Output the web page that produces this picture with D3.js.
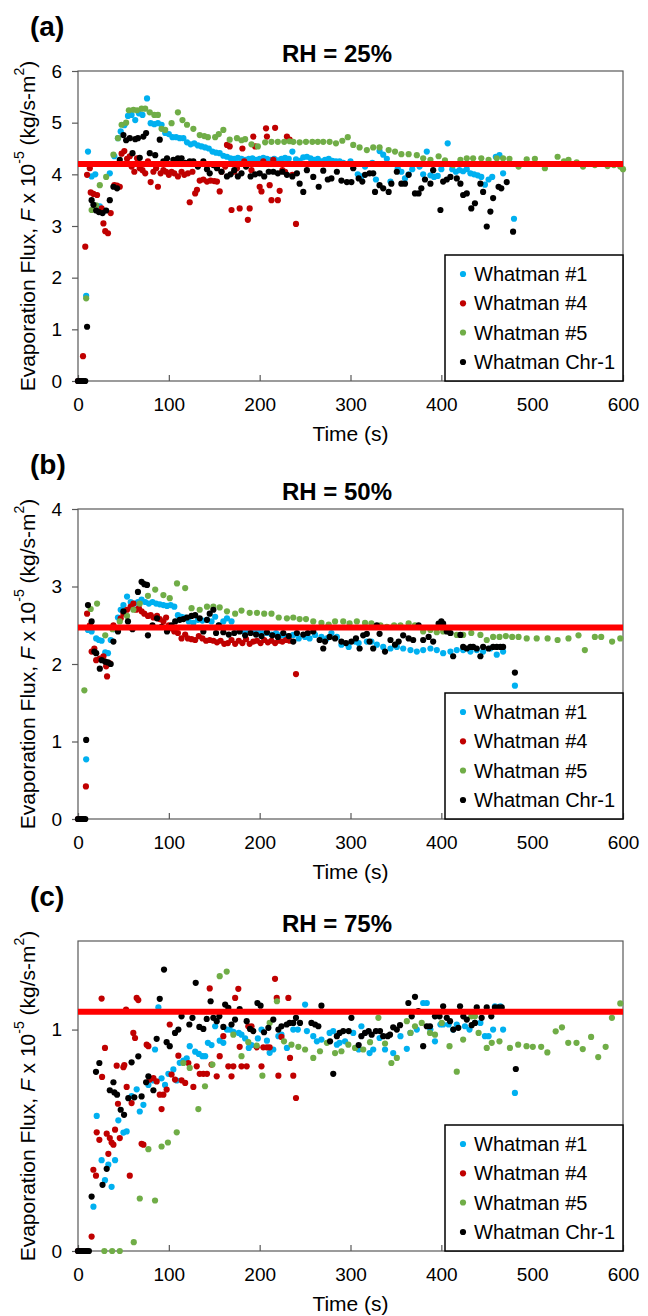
<!DOCTYPE html>
<html lang="en">
<head>
<meta charset="UTF-8" />
<title>Evaporation flux vs time</title>
<script src="https://d3js.org/d3.v7.min.js"></script>
<style>
  body { margin: 0; background: #fff; }
  svg { display: block; font-family: "Liberation Sans", Arial, sans-serif; }
</style>
</head>
<body>
<svg width="648" height="1316"></svg>
<script>
// ---- data: [time (s), flux x 1e-5] ----
const seriesNames = ["Whatman #1", "Whatman #4", "Whatman #5", "Whatman Chr-1"];
const seriesColors = ["#00b0f0", "#c00000", "#70ad47", "#000000"];
const panelLabels = ["(a)", "(b)", "(c)"];
const panelTitles = ["RH = 25%", "RH = 50%", "RH = 75%"];
const refLevels = [4.2, 2.47, 1.08];
const yMaxes = [6, 4, 1.4];
const yTicksA = [0, 1, 2, 3, 4, 5, 6];
const yTicksB = [0, 1, 2, 3, 4];
const yTicksC = [0, 1];
const xTicks = [0, 100, 200, 300, 400, 500, 600];

// (a) RH = 25%
const a_w1 = [[0,0],[3,0],[6,0],[9,1.65],[11,4.44],[15,3.96],[19,4.0],[24,3.38],[29,3.3],[35,4.02],[40,4.35],[44,4.7],[47,4.83],[51,4.95],[55,5.13],[59,5.15],[63,5.05],[67,5.18],[71,5.15],[76,5.47],[80,4.99],[84,4.97],[88,4.99],[92,4.96],[96,4.8],[100,4.78],[104,4.72],[108,4.72],[112,4.7],[116,4.7],[120,4.62],[124,4.58],[128,4.6],[132,4.56],[136,4.54],[140,4.52],[144,4.5],[148,4.44],[152,4.42],[156,4.41],[160,4.36],[164,4.34],[168,4.31],[172,4.3],[176,4.32],[180,4.3],[184,4.28],[188,4.3],[192,4.31],[196,4.28],[200,4.3],[204,4.32],[208,4.3],[212,4.28],[216,4.3],[220,4.27],[224,4.3],[228,4.32],[232,4.3],[236,4.44],[240,4.29],[244,4.26],[248,4.33],[252,4.34],[256,4.31],[260,4.28],[264,4.3],[268,4.25],[272,4.28],[276,4.3],[280,4.26],[284,4.25],[288,4.25],[292,4.22],[296,4.2],[300,4.25],[304,4.2],[308,4.0],[312,3.96],[316,4.15],[320,4.2],[324,4.22],[328,3.9],[332,4.45],[336,4.38],[340,4.3],[344,3.86],[348,4.2],[352,4.12],[356,4.05],[360,3.92],[364,4.0],[368,4.1],[372,4.2],[376,4.15],[380,4.0],[384,4.44],[388,3.98],[392,3.95],[396,3.97],[400,4.1],[404,4.2],[407,4.6],[412,4.1],[416,4.05],[420,4.08],[424,4.06],[428,4.1],[432,4.02],[436,4.0],[440,3.98],[444,3.95],[448,3.8],[452,3.9],[456,3.95],[460,4.34],[464,4.37],[468,4.02],[480,3.14]];
const a_w4 = [[0,0],[3,0],[5.5,0.48],[8,2.6],[10,3.99],[13,4.12],[14,3.65],[17,3.62],[21,3.6],[26,3.34],[28,3.05],[30,2.9],[33,2.86],[36,3.25],[40,3.79],[43,3.78],[46,3.76],[48,4.4],[51,4.45],[54,4.3],[57,4.35],[59,4.15],[62,4.05],[65,4.31],[68,4.12],[71,4.08],[74,4.02],[77,4.25],[80,3.85],[83,4.05],[86,4.12],[88,3.76],[91,4.02],[94,4.08],[97,4.05],[100,3.99],[103,4.05],[106,4.02],[110,3.96],[114,4.05],[117,3.99],[121,4.02],[123,3.46],[126,4.05],[129,3.63],[131,3.7],[134,3.88],[138,3.9],[142,3.86],[146,3.88],[150,3.87],[153,3.86],[156,3.67],[158,4.05],[162,4.15],[164,4.57],[167,4.54],[169,3.31],[172,4.05],[175,4.12],[178,3.34],[181,4.5],[183,4.25],[187,3.12],[189,3.34],[191,4.08],[193,4.73],[195,4.54],[200,3.76],[202,3.67],[204,4.25],[207,4.89],[208,4.73],[211,3.79],[213,3.5],[215,4.28],[217,4.9],[220,3.5],[222,3.68],[225,4.08],[228,4.05],[230,4.73],[233,4.67],[236,3.99],[240,3.04]];
const a_w5 = [[9,1.6],[15,3.31],[20,3.4],[24,3.79],[31,3.95],[35,4.2],[39,4.38],[44,4.7],[48,4.96],[53,5.0],[56,5.24],[61,5.25],[65,5.24],[70,5.27],[74,5.27],[79,5.2],[84,5.15],[88,5.15],[92,4.88],[96,4.86],[103,4.99],[110,5.2],[115,5.05],[120,4.96],[127,4.88],[134,4.76],[139,4.74],[143,4.72],[151,4.72],[155,4.78],[160,4.86],[167,4.67],[175,4.7],[180,4.66],[184,4.68],[191,4.58],[198,4.54],[206,4.62],[213,4.63],[220,4.63],[227,4.63],[233,4.64],[237,4.63],[244,4.62],[251,4.63],[258,4.63],[264,4.63],[270,4.63],[277,4.63],[284,4.6],[291,4.65],[297,4.72],[303,4.57],[310,4.52],[318,4.47],[325,4.52],[332,4.52],[342,4.47],[349,4.44],[356,4.39],[364,4.39],[373,4.37],[380,4.31],[388,4.28],[397,4.35],[404,4.27],[413,4.18],[421,4.28],[428,4.31],[435,4.31],[444,4.31],[452,4.28],[461,4.31],[468,4.31],[475,4.3],[485,4.15],[494,4.29],[503,4.3],[514,4.12],[521,4.2],[528,4.34],[535,4.25],[540,4.28],[549,4.23],[556,4.15],[563,4.2],[569,4.18],[576,4.2],[583,4.16],[590,4.18],[597,4.15],[600,4.1]];
const a_chr = [[0,0],[2,0],[4,0],[6,0],[8,0],[10,1.05],[15,3.5],[17,3.41],[20,3.3],[23,3.27],[27,3.25],[31,3.3],[35,3.5],[39,3.76],[43,3.73],[46,4.28],[50,4.76],[53,4.66],[57,4.7],[60,4.41],[63,4.68],[66,4.7],[68,4.32],[72,4.73],[75,4.8],[79,4.41],[85,4.37],[90,4.67],[94,4.25],[98,4.31],[102,4.2],[105,4.28],[110,4.31],[114,4.31],[118,4.22],[123,4.25],[127,4.25],[132,4.15],[138,4.25],[142,4.1],[145,4.02],[149,4.18],[153,4.12],[158,4.05],[164,3.96],[168,4.0],[172,4.08],[176,3.96],[180,4.02],[185,4.15],[190,3.96],[195,4.0],[200,4.02],[205,3.96],[210,4.05],[215,4.05],[220,4.02],[225,4.05],[230,3.99],[236,3.96],[241,4.02],[244,3.82],[248,3.66],[252,4.08],[259,3.95],[265,3.76],[270,4.07],[275,3.9],[279,3.92],[285,4.05],[290,3.88],[296,3.85],[301,3.85],[303,4.12],[309,3.92],[313,3.86],[316,3.99],[321,4.02],[325,4.02],[327,3.66],[332,3.79],[336,3.73],[342,3.66],[345,3.82],[351,4.05],[356,3.82],[360,3.82],[364,3.99],[371,3.63],[375,3.63],[378,3.73],[382,3.9],[388,3.82],[391,4.08],[399,3.31],[402,3.86],[406,3.9],[410,3.95],[417,3.92],[421,3.82],[424,3.6],[428,3.63],[433,3.34],[437,3.44],[443,3.82],[446,3.66],[450,2.99],[454,3.28],[457,3.54],[463,3.76],[466,3.73],[472,3.85],[479,2.89]];

// (b) RH = 50%
const b_w1 = [[0,0],[3,0],[6,0],[9,0.77],[11,2.44],[15,2.42],[20,2.33],[23,2.31],[26,2.3],[30,2.15],[33,2.14],[36,2.31],[40,2.45],[44,2.6],[47,2.7],[50,2.76],[54,2.87],[58,2.8],[62,2.78],[66,2.8],[70,2.83],[74,2.8],[78,2.78],[82,2.8],[86,2.78],[90,2.77],[94,2.76],[98,2.75],[102,2.76],[106,2.74],[110,2.63],[114,2.61],[118,2.6],[122,2.55],[127,2.53],[132,2.57],[137,2.56],[142,2.57],[147,2.55],[151,2.61],[155,2.5],[160,2.55],[164,2.59],[169,2.55],[174,2.45],[178,2.43],[183,2.42],[188,2.44],[193,2.42],[198,2.42],[203,2.4],[208,2.4],[213,2.38],[218,2.4],[223,2.37],[228,2.36],[233,2.36],[237,2.375],[243,2.33],[250,2.35],[255,2.33],[261,2.375],[268,2.35],[274,2.33],[279,2.4],[285,2.35],[290,2.25],[298,2.22],[305,2.29],[309,2.27],[318,2.29],[323,2.29],[329,2.25],[336,2.22],[344,2.2],[351,2.22],[358,2.2],[366,2.18],[373,2.16],[380,2.18],[388,2.2],[395,2.18],[402,2.14],[410,2.16],[417,2.18],[424,2.18],[432,2.16],[439,2.18],[446,2.16],[454,2.2],[461,2.12],[468,2.16],[481,1.72]];
const b_w4 = [[0,0],[3,0],[8.7,0.42],[10,2.65],[13,2.5],[15,2.16],[18,2.2],[20,2.05],[24,2.07],[28,2.1],[31,1.97],[32,1.84],[35,2.01],[39,2.5],[43,2.46],[47,2.59],[50,2.65],[54,2.7],[58,2.74],[61,2.78],[64,2.7],[67,2.72],[70,2.68],[73,2.65],[77,2.62],[80,2.63],[83,2.6],[87,2.62],[90,2.58],[94,2.55],[97,2.6],[100,2.5],[103,2.46],[106,2.42],[110,2.4],[114,2.33],[118,2.38],[121,2.33],[125,2.32],[129,2.31],[133,2.36],[137,2.33],[141,2.3],[145,2.31],[149,2.3],[153,2.28],[157,2.3],[161,2.26],[165,2.27],[169,2.31],[173,2.26],[177,2.3],[181,2.27],[185,2.32],[189,2.26],[193,2.29],[197,2.3],[201,2.27],[205,2.31],[209,2.28],[213,2.3],[217,2.27],[221,2.3],[225,2.29],[229,2.31],[233,2.3],[240,1.87]];
const b_w5 = [[7,1.66],[14,2.71],[21,2.78],[30,2.37],[38,2.45],[46,2.55],[54,2.62],[61,2.7],[68,2.78],[77,2.88],[85,2.96],[94,2.89],[101,2.85],[109,3.04],[118,2.98],[125,2.72],[134,2.7],[142,2.74],[149,2.74],[156,2.73],[164,2.68],[173,2.65],[180,2.69],[189,2.66],[197,2.66],[205,2.65],[213,2.65],[221,2.6],[230,2.59],[237,2.6],[244,2.58],[251,2.58],[259,2.55],[268,2.53],[276,2.51],[283,2.55],[292,2.55],[299,2.525],[307,2.55],[316,2.53],[323,2.525],[333,2.5],[340,2.48],[348,2.5],[355,2.5],[364,2.525],[371,2.5],[380,2.42],[388,2.44],[395,2.41],[402,2.42],[410,2.4],[417,2.375],[424,2.375],[433,2.4],[443,2.375],[450,2.31],[457,2.35],[464,2.35],[471,2.36],[478,2.35],[485,2.35],[494,2.33],[505,2.33],[517,2.33],[528,2.31],[540,2.33],[551,2.37],[558,2.18],[569,2.35],[576,2.35],[588,2.29],[597,2.33]];
const b_chr = [[0,0],[2,0],[4,0],[6,0],[8,0],[9,1.02],[11,2.76],[15,2.55],[18,2.16],[20,2.14],[24,1.94],[26,2.05],[30,2.03],[33,2.02],[36,2.0],[39,2.29],[44,2.42],[50,2.68],[55,2.55],[60,2.45],[66,2.93],[70,3.06],[73,3.03],[76,3.02],[77,2.37],[82,2.5],[87,2.59],[92,2.48],[98,2.42],[103,2.5],[107,2.55],[112,2.57],[116,2.58],[120,2.6],[125,2.62],[129,2.63],[134,2.59],[138,2.42],[142,2.57],[145,2.65],[149,2.7],[152,2.4],[155,2.5],[160,2.41],[166,2.38],[172,2.4],[178,2.42],[184,2.37],[190,2.4],[196,2.38],[202,2.36],[208,2.41],[214,2.37],[220,2.35],[226,2.4],[232,2.36],[237,2.29],[241,2.4],[248,2.38],[253,2.4],[259,2.42],[266,2.31],[270,2.2],[272,2.29],[277,2.35],[283,2.33],[290,2.29],[295,2.27],[301,2.29],[306,2.33],[310,2.2],[314,2.37],[318,2.39],[321,2.29],[325,2.2],[329,2.5],[332,2.39],[338,2.16],[344,2.31],[349,2.25],[353,2.29],[358,2.37],[364,2.33],[369,2.31],[375,2.5],[380,2.31],[386,2.35],[391,2.29],[397,2.52],[400,2.55],[402,2.52],[406,2.42],[410,2.4],[413,2.1],[421,2.375],[424,2.22],[428,2.2],[432,2.22],[435,2.22],[439,2.2],[443,2.1],[446,2.22],[452,2.2],[457,2.22],[461,2.22],[465,2.22],[468,2.22],[481,1.89]];

// (c) RH = 75%
const c_w1 = [[0,0],[4,0],[8,0],[17,0.2],[20.6,0.61],[26,0.41],[29.7,0.32],[33.4,0.39],[37,0.29],[40.8,0.41],[44.4,0.59],[50,0.535],[53.6,0.54],[59,0.7],[64.6,0.73],[68,0.63],[72,0.66],[77.5,0.75],[83,0.77],[84.8,0.91],[88.5,1.1],[92,0.78],[95.8,0.75],[99.5,0.8],[105,0.82],[108.7,0.77],[112,0.85],[116,0.86],[119.7,0.87],[123,0.925],[129,0.9],[133,0.89],[137,0.88],[140,0.88],[143,0.94],[147,0.93],[151,1.015],[156,0.95],[160,0.94],[164,1.0],[167,1.0],[171,0.99],[177,0.985],[180,0.977],[184,0.96],[188,0.917],[191,0.93],[198,0.96],[202,1.0],[208,0.95],[211,0.895],[215,0.91],[220.6,0.97],[224,0.977],[230,0.917],[237,1.0],[242,1.0],[250,1.113],[252,0.993],[259,0.97],[263,0.947],[268,0.955],[277,0.985],[281,0.993],[285,0.932],[288,0.94],[294,0.947],[303,0.985],[309,0.91],[312,1.015],[321,0.894],[325,0.91],[332,0.962],[338,0.91],[347,0.894],[355,0.97],[362,0.913],[366,0.985],[373,1.0],[380,1.12],[384,1.12],[388,1.0],[393,0.947],[399,1.023],[402,1.023],[408,1.023],[413,1.0],[417,1.023],[426,1.015],[431,1.0],[437,1.03],[443,1.03],[448,0.97],[452,0.97],[457,1.0],[459,1.105],[465,1.105],[468,1.0],[481,0.714]];
const c_w4 = [[0,0],[4,0],[8,0],[15,0.065],[16.9,0.367],[19.8,0.34],[20.6,0.536],[23.5,0.502],[26,1.14],[26.5,0.786],[29.7,0.917],[31.6,0.53],[33.4,0.439],[35,0.51],[37,0.49],[39,0.48],[40.8,0.548],[42.6,0.837],[44,0.665],[46,0.51],[50,0.83],[51,0.84],[52.9,1.09],[53.6,0.741],[57,0.34],[59,0.668],[60.9,0.985],[62.8,0.962],[64.6,1.143],[66.4,1.133],[70,0.484],[72,0.48],[75.6,0.932],[77.5,0.925],[79,0.774],[83,0.781],[86.6,0.766],[90,0.706],[92,0.641],[94,0.706],[97.6,0.729],[101,1.023],[103,0.797],[106.8,0.774],[110.5,0.882],[114,0.771],[118,0.759],[121.5,0.849],[127,0.741],[130.7,0.834],[134,0.8],[138,0.8],[142,0.8],[145,1.186],[147,0.842],[152.7,0.789],[156,0.88],[160,0.97],[165.5,0.834],[169,0.789],[171,0.834],[173,1.143],[176.5,1.184],[178,0.922],[180,0.834],[185.7,0.834],[187.5,1.015],[191,1.015],[196.7,0.92],[202,0.834],[204,0.92],[208,0.92],[211,0.92],[216.9,1.229],[218.8,1.143],[220.6,0.792],[224,0.967],[231.6,1.143],[233.4,0.872],[237,0.792],[240,0.691]];
const c_w5 = [[29,0],[37.6,0],[46,0],[61.4,0.04],[68,0.237],[77.5,0.46],[84.8,0.228],[92,0.472],[99,0.49],[108.7,0.536],[116,0.849],[123,0.827],[132.5,0.641],[139.8,0.744],[148,0.842],[156,1.241],[163.7,1.262],[171,0.977],[180,0.88],[187.5,0.943],[196.7,0.928],[203,0.792],[211,1.03],[219,1.128],[226.8,0.947],[235,0.932],[242.6,0.922],[250,0.91],[259,0.872],[266.4,0.902],[274,0.94],[283,0.894],[290,0.902],[297.6,0.932],[305,0.917],[314,0.91],[321.5,0.943],[330.7,1.053],[338,0.937],[345,0.849],[351,0.872],[362,1.038],[366,0.985],[371,1.015],[378.4,1.03],[387.5,0.985],[393,0.977],[400.4,1.03],[409,0.925],[417,0.81],[424,0.955],[433,1.06],[437,1.06],[441,0.985],[450,0.917],[455.5,0.94],[464,0.947],[475.5,0.917],[484.6,0.932],[493.8,0.925],[500.7,0.922],[509.9,0.922],[516.7,0.897],[525.9,0.992],[532.8,1.01],[539.7,0.94],[548.8,0.94],[555.7,0.912],[564.9,0.967],[572.7,0.876],[580.9,0.922],[587.8,1.053],[597,1.118]];
const c_chr = [[0,0],[2,0],[4,0],[6,0],[8,0],[10,0],[12,0],[15,0.246],[19.8,0.809],[23.5,0.849],[27,0.299],[31.6,0.371],[35,0.726],[39,0.762],[40,0.716],[43,0.706],[47,0.638],[50.7,0.615],[55.4,0.69],[59,0.852],[62,0.694],[66.4,0.879],[70,0.698],[75,0.762],[77.5,0.789],[83,0.726],[86.6,0.958],[90,1.139],[94.7,1.271],[97.6,0.943],[101,0.925],[106.8,0.985],[110.5,1.0],[114,1.06],[122.6,1.023],[126,1.053],[129.6,1.211],[133.6,1.012],[138,1.003],[141.7,1.048],[146,1.128],[149,1.053],[152.7,1.038],[155.6,1.06],[160,1.012],[162,1.113],[165.5,1.098],[169,1.023],[172.9,1.045],[178,1.093],[185.7,1.038],[189.4,1.003],[193,0.993],[197.5,1.12],[201,1.108],[204.8,0.988],[209.6,1.008],[215,1.045],[220.6,1.0],[224,1.015],[229.8,1.023],[233,1.03],[237,1.03],[240,1.053],[244.4,1.03],[257,1.03],[261,1.023],[264.6,1.015],[268,1.108],[277.5,0.947],[281,0.8],[285,0.97],[288,0.985],[292,0.993],[298,0.993],[301,1.053],[309,0.93],[312,0.97],[316,0.985],[320,0.993],[323.3,0.977],[328,0.993],[332.5,0.993],[336,0.97],[341,0.97],[343.5,0.977],[347,1.01],[351,1.0],[354.5,1.02],[363.7,1.12],[367.4,1.06],[371,1.148],[374.7,1.083],[380,0.925],[384,1.015],[387.5,1.015],[393,1.06],[398,1.06],[402,1.105],[406,1.053],[409.6,1.038],[413.2,1.0],[418.7,1.008],[420.6,1.105],[424.2,1.06],[428,1.045],[433.4,1.02],[437,1.03],[439,1.1],[444.4,1.053],[450,1.1],[455,1.06],[459,1.1],[463,1.1],[466.5,1.1],[482,0.822]];

const panelData = [[a_w1, a_w4, a_w5, a_chr], [b_w1, b_w4, b_w5, b_chr], [c_w1, c_w4, c_w5, c_chr]];
const panelYTicks = [yTicksA, yTicksB, yTicksC];

// ---- layout ----
const svg = d3.select("svg");
const plotL = 78, plotR = 623, plotH = 310;
const plotTops = [71, 509, 941];
const dotR = 3.1;
const x = d3.scaleLinear().domain([0, 600]).range([plotL, plotR]);

panelData.forEach((data, i) => {
  const top = plotTops[i], bottom = top + plotH;
  const y = d3.scaleLinear().domain([0, yMaxes[i]]).range([bottom, top]);
  const g = svg.append("g");

  // panel letter + title
  g.append("text").attr("x", 30).attr("y", top - 45)
    .attr("dominant-baseline", "central")
    .style("font-size", "28px").style("font-weight", "bold")
    .text(panelLabels[i]);
  g.append("text").attr("x", 337).attr("y", top - 18)
    .attr("dominant-baseline", "central").attr("text-anchor", "middle")
    .style("font-size", "24px").style("font-weight", "bold")
    .text(panelTitles[i]);

  // axes
  const xAxis = g.append("g").attr("transform", `translate(0,${bottom})`)
    .call(d3.axisBottom(x).tickValues(xTicks).tickSize(-6).tickPadding(17));
  const yAxis = g.append("g").attr("transform", `translate(${plotL},0)`)
    .call(d3.axisLeft(y).tickValues(panelYTicks[i]).tickFormat(d3.format("d")).tickSize(6).tickPadding(10));
  [xAxis, yAxis].forEach(ax => {
    ax.select(".domain").remove();
    ax.selectAll("line").attr("stroke", "#595959").attr("stroke-width", 1.2);
    ax.selectAll("text").style("font-size", "19px").attr("fill", "#000")
      .style("font-family", '"Liberation Sans", Arial, sans-serif');
  });

  // frame
  g.append("rect").attr("x", plotL).attr("y", top)
    .attr("width", plotR - plotL).attr("height", plotH)
    .attr("fill", "none").attr("stroke", "#595959").attr("stroke-width", 1.2);

  // points
  data.forEach((pts, s) => {
    g.append("g").selectAll("circle").data(pts).join("circle")
      .attr("cx", d => x(d[0])).attr("cy", d => y(d[1]))
      .attr("r", dotR).attr("fill", seriesColors[s]);
  });

  // reference line
  g.append("line").attr("x1", x(0)).attr("x2", x(600))
    .attr("y1", y(refLevels[i])).attr("y2", y(refLevels[i]))
    .attr("stroke", "#ff0000").attr("stroke-width", 6);

  // legend
  const lg = g.append("g");
  lg.append("rect").attr("x", 445).attr("y", bottom - 126)
    .attr("width", plotR - 445).attr("height", 126)
    .attr("fill", "#fff").attr("stroke", "#000").attr("stroke-width", 1.5);
  const offs = [107, 77.7, 48.5, 19];
  seriesNames.forEach((name, s) => {
    lg.append("circle").attr("cx", 463).attr("cy", bottom - offs[s])
      .attr("r", dotR).attr("fill", seriesColors[s]);
    lg.append("text").attr("x", 474).attr("y", bottom - offs[s])
      .attr("dominant-baseline", "central").style("font-size", "20px")
      .text(name);
  });

  // axis titles
  g.append("text").attr("x", (plotL + plotR) / 2).attr("y", bottom + 52)
    .attr("text-anchor", "middle").attr("dominant-baseline", "central")
    .style("font-size", "21px").text("Time (s)");

  const yl = g.append("text")
    .attr("transform", `translate(27,${(top + bottom) / 2}) rotate(-90)`)
    .attr("text-anchor", "middle").attr("dominant-baseline", "central")
    .style("font-size", "21px");
  yl.append("tspan").text("Evaporation Flux, ");
  yl.append("tspan").style("font-style", "italic").text("F");
  yl.append("tspan").text(" x 10");
  yl.append("tspan").attr("dy", -8).style("font-size", "14px").text("-5");
  yl.append("tspan").attr("dy", 8).text("  (kg/s-m");
  yl.append("tspan").attr("dy", -8).style("font-size", "14px").text("2");
  yl.append("tspan").attr("dy", 8).text(")");
});
</script>
</body>
</html>
